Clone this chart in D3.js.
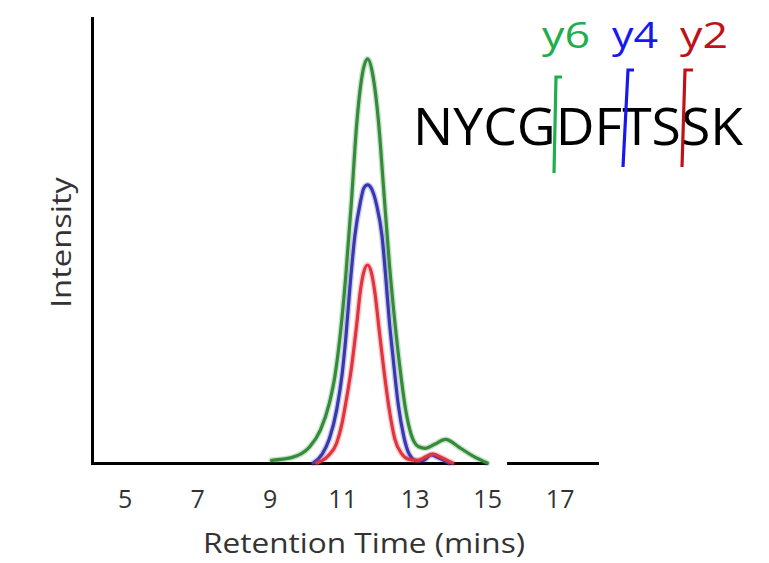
<!DOCTYPE html>
<html>
<head>
<meta charset="utf-8">
<script src="https://cdn.jsdelivr.net/npm/d3@7"></script>
<style>
  html, body { margin: 0; padding: 0; background: #fff; }
  svg { display: block; }
</style>
</head>
<body>
<svg id="chart" width="769" height="563"></svg>
<script>
// ---------------- data ----------------
const xTickValues = [5, 7, 9, 11, 13, 15, 17];
const xTitle = "Retention Time (mins)";
const yTitle = "Intensity";

// retention time (min) / relative intensity for each fragment ion trace
const y6Time = [9.05, 9.6, 10.1, 10.4, 10.65, 10.8, 10.95, 11.1, 11.25, 11.4, 11.55, 11.7, 11.85, 12.0, 12.15, 12.3, 12.45, 12.6, 12.75, 12.9, 13.1, 13.3, 13.55, 13.85, 14.25, 14.6, 15.0];
const y6Int  = [0.6, 1.2, 3.6, 7.4, 13.5, 19.5, 29, 42, 58, 76, 87, 90.8, 87, 77, 61, 45, 32, 21, 12, 6.5, 3.7, 3.3, 4.2, 5.3, 3.4, 1.6, 0];

const y4Time = [10.2, 10.45, 10.65, 10.85, 11.0, 11.1, 11.22, 11.35, 11.5, 11.6, 11.7, 11.8, 11.95, 12.1, 12.2, 12.3, 12.4, 12.55, 12.7, 12.85, 13.05, 13.25, 13.45, 13.7, 13.95];
const y4Int  = [0, 2, 5.5, 12, 20, 28, 40, 51, 58.5, 61.8, 62.5, 61.8, 58, 51, 42, 32, 24, 13, 6, 2, 0.5, 0.6, 1.8, 1.0, 0];

const y2Time = [10.3, 10.6, 10.85, 11.0, 11.1, 11.25, 11.4, 11.5, 11.6, 11.7, 11.8, 11.9, 12.02, 12.15, 12.3, 12.45, 12.65, 12.85, 13.1, 13.3, 13.5, 13.75, 14.05];
const y2Int  = [0, 1.5, 4.5, 9, 13.5, 21, 31, 38.5, 43, 44.5, 43, 38.5, 30, 21, 12, 5.5, 2, 0.8, 0.6, 1.4, 2.0, 1.2, 0];

const peptide = "NYCGDFTSSK";

// ---------------- layout ----------------
const svg = d3.select("#chart");
svg.append("rect").attr("width", 769).attr("height", 563).attr("fill", "#fff");

const x = d3.scaleLinear().domain([4.1, 18.03]).range([92, 597]);
const y = d3.scaleLinear().domain([0, 100]).range([463, 18]);

const colors = { y6: "#348c3a", y4: "#3838b0", y2: "#e2343e" };
const labelColors = { y6: "#1eae4e", y4: "#1818ee", y2: "#c01018" };

const series = [
  { name: "y6", pts: y6Time.map((t, i) => [t, y6Int[i]]) },
  { name: "y4", pts: y4Time.map((t, i) => [t, y4Int[i]]) },
  { name: "y2", pts: y2Time.map((t, i) => [t, y2Int[i]]) }
];

// axes
const xAxis = d3.axisBottom(x).tickValues(xTickValues).tickSize(0).tickSizeOuter(0).tickPadding(27);
const gx = svg.append("g").attr("transform", `translate(0,${y(0)})`).call(xAxis);
gx.select(".domain").attr("stroke", "#000").attr("stroke-width", 3).attr("stroke-linecap", "square");
gx.selectAll("text")
  .attr("font-family", "'Open Sans', sans-serif")
  .attr("font-size", 25)
  .attr("fill", "#333");

const yAxis = d3.axisLeft(y).tickValues([]).tickSize(0).tickSizeOuter(0);
const gy = svg.append("g").attr("transform", `translate(${x(4.1)},0)`).call(yAxis);
gy.select(".domain").attr("stroke", "#000").attr("stroke-width", 3).attr("stroke-linecap", "square");

// small break in the baseline seen in the reference
svg.append("rect")
  .attr("x", x(15.03)).attr("y", y(0) - 3)
  .attr("width", x(15.55) - x(15.03)).attr("height", 6)
  .attr("fill", "#fff");

// axis titles
svg.append("text")
  .attr("x", 203).attr("y", 553)
  .attr("font-family", "'Open Sans', sans-serif")
  .attr("font-size", 28).attr("fill", "#333")
  .attr("textLength", 322).attr("lengthAdjust", "spacingAndGlyphs")
  .text(xTitle);

svg.append("text")
  .attr("transform", "translate(70.5,308) rotate(-90)")
  .attr("font-family", "'Open Sans', sans-serif")
  .attr("font-size", 28).attr("fill", "#333")
  .attr("textLength", 131).attr("lengthAdjust", "spacingAndGlyphs")
  .text(yTitle);

// traces
const line = d3.line().x(d => x(d[0])).y(d => y(d[1])).curve(d3.curveMonotoneX);
const g = svg.append("g");
series.forEach(s => {
  g.append("path").datum(s.pts)
    .attr("d", line).attr("fill", "none")
    .attr("stroke", colors[s.name]).attr("stroke-opacity", 0.25)
    .attr("stroke-width", 6).attr("stroke-linejoin", "round").attr("stroke-linecap", "round");
  g.append("path").datum(s.pts)
    .attr("d", line).attr("fill", "none")
    .attr("stroke", colors[s.name])
    .attr("stroke-width", 3.2).attr("stroke-linejoin", "round").attr("stroke-linecap", "round");
});

// peptide annotation
svg.append("text")
  .attr("x", 413).attr("y", 145)
  .attr("font-family", "'Open Sans', sans-serif")
  .attr("font-size", 52).attr("fill", "#000")
  .attr("textLength", 330).attr("lengthAdjust", "spacingAndGlyphs")
  .text(peptide);

const brackets = [
  { name: "y6", bx: 554, by: 173, tx: 556, ty: 77, w: 6, lx: 542, lw: 48 },
  { name: "y4", bx: 623, by: 167, tx: 628, ty: 70, w: 6, lx: 612, lw: 46 },
  { name: "y2", bx: 682, by: 167, tx: 685, ty: 70, w: 8, lx: 680, lw: 48 }
];
brackets.forEach(b => {
  svg.append("path")
    .attr("d", `M${b.bx},${b.by}L${b.tx},${b.ty}L${b.tx + b.w},${b.ty}`)
    .attr("fill", "none").attr("stroke", labelColors[b.name])
    .attr("stroke-width", 3.2).attr("stroke-linejoin", "miter");
  svg.append("text")
    .attr("x", b.lx).attr("y", 48)
    .attr("font-family", "'Open Sans', sans-serif")
    .attr("font-size", 36).attr("fill", labelColors[b.name])
    .attr("textLength", b.lw).attr("lengthAdjust", "spacingAndGlyphs")
    .text(b.name);
});
</script>
</body>
</html>
